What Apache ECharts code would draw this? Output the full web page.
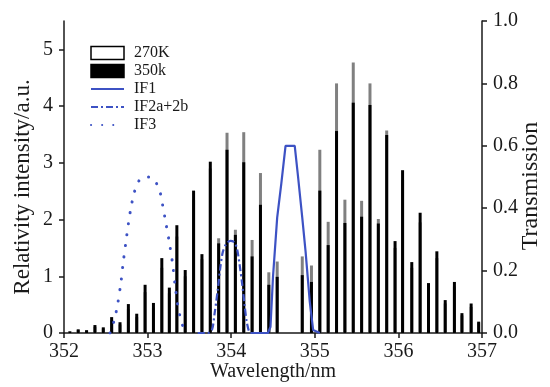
<!DOCTYPE html>
<html>
<head>
<meta charset="utf-8">
<script src="https://cdn.jsdelivr.net/npm/echarts@6/dist/echarts.min.js"></script>
<style>
  html, body { margin: 0; padding: 0; background: #ffffff; }
  #chart { width: 550px; height: 387px; }
</style>
</head>
<body>
<div id="chart"></div>
<script>
// Rotational line positions (nm)
const wavelengths = [352.07,352.17,352.27,352.37,352.47,352.57,352.67,352.77,352.87,352.97,353.07,
  353.17,353.26,353.35,353.45,353.55,353.65,353.75,353.85,353.95,
  354.05,354.15,354.25,354.35,354.45,354.55,354.85,354.96,
  355.06,355.16,355.26,355.36,355.46,355.56,355.66,355.76,355.86,355.96,
  356.05,356.16,356.26,356.36,356.46,356.56,356.67,356.76,356.87,356.96];

// Line intensities at 270 K
const intensity270K = [0.02,0.05,0.04,0.11,0.08,0.22,0.15,0.42,0.28,0.72,0.45,
  1.15,0.70,1.70,1.00,2.35,1.30,2.90,1.67,3.53,
  1.82,3.54,1.64,2.82,1.07,1.26,1.35,1.19,
  3.23,1.96,4.40,2.35,4.77,2.33,4.40,2.01,3.57,1.50,
  2.70,1.15,1.95,0.80,1.32,0.52,0.82,0.31,0.46,0.18];

// Line intensities at 350 k
const intensity350k = [0.03,0.065,0.05,0.14,0.10,0.28,0.19,0.51,0.34,0.85,0.53,
  1.32,0.80,1.90,1.11,2.51,1.39,3.02,1.58,3.23,
  1.73,3.01,1.35,2.26,0.85,0.99,1.02,0.90,
  2.51,1.55,3.56,1.94,4.06,2.05,4.02,1.93,3.49,1.62,
  2.87,1.25,2.12,0.88,1.44,0.58,0.90,0.35,0.52,0.20];

// Filter transmission curves: [wavelength, transmission]
const if1Curve = [[354.25,0],[354.44,0],[354.47,0.02],[354.50,0.18],[354.55,0.37],[354.60,0.48],
  [354.65,0.60],[354.76,0.60],[354.80,0.50],[354.85,0.37],[354.89,0.26],[354.94,0.10],
  [354.98,0.01],[355.06,0]];

const if2Curve = [[353.60,0],[353.72,0],[353.77,0.01],[353.80,0.06],[353.84,0.14],[353.87,0.21],
  [353.90,0.26],[353.94,0.285],[353.99,0.295],[354.04,0.29],[354.07,0.27],[354.10,0.22],
  [354.13,0.16],[354.16,0.09],[354.19,0.03],[354.23,0],[354.28,0]];

const if3Curve = [[352.55,0],[352.60,0.04],[352.64,0.09],[352.68,0.16],[352.71,0.23],[352.74,0.29],
  [352.77,0.35],[352.80,0.40],[352.84,0.45],[352.89,0.485],[352.95,0.50],[353.02,0.50],
  [353.08,0.49],[353.14,0.46],[353.18,0.41],[353.22,0.35],[353.26,0.29],[353.30,0.22],
  [353.33,0.15],[353.36,0.09],[353.40,0.04],[353.45,0]];

// Axis ticks
const xTicks = [352, 353, 354, 355, 356, 357];
const intensityTicks = [0, 1, 2, 3, 4, 5];

const FONT = '"Liberation Serif", "Times New Roman", serif';
const INK = '#1a1a1a';
const BLUE = '#3d52c4';

const pairs = (xs, ys) => xs.map((x, i) => [x, ys[i]]);

const chart = echarts.init(document.getElementById('chart'), null, { renderer: 'canvas' });

// legend entries for the curves show the stroke only (no marker)
const lineEntry = name => ({ name, itemStyle: { opacity: 0 } });

chart.setOption({
  backgroundColor: '#ffffff',
  animation: false,
  textStyle: { fontFamily: FONT, color: INK },
  grid: { left: 64, right: 68, top: 21, bottom: 54, containLabel: false, outerBoundsMode: 'none' },
  legend: {
    orient: 'vertical',
    left: 90,
    top: 45,
    padding: 0,
    itemWidth: 33,
    itemHeight: 13,
    itemGap: 2,
    textStyle: { fontFamily: FONT, fontSize: 16, color: INK, lineHeight: 16, padding: [0, 0, 0, 5] },
    data: [
      { name: '270K', icon: 'rect', itemStyle: { color: '#ffffff', borderColor: '#000000', borderWidth: 1.5 } },
      { name: '350k', icon: 'rect', itemStyle: { color: '#000000', borderColor: '#000000', borderWidth: 1.5 } },
      lineEntry('IF1'),
      lineEntry('IF2a+2b'),
      lineEntry('IF3')
    ]
  },
  xAxis: {
    type: 'value',
    min: 352,
    max: 357,
    interval: 1,
    name: 'Wavelength/nm',
    nameLocation: 'middle',
    nameMoveOverlap: false,
    nameGap: 29,
    nameTextStyle: { fontFamily: FONT, fontSize: 20, color: INK },
    axisLine: { show: true, onZero: false, lineStyle: { color: INK, width: 1.5 } },
    axisTick: { show: true, inside: false, length: 5, lineStyle: { color: INK, width: 1.5 }, customValues: xTicks },
    axisLabel: { fontFamily: FONT, fontSize: 20, color: INK, margin: 9, customValues: xTicks },
    splitLine: { show: false }
  },
  yAxis: [
    {
      type: 'value',
      min: 0,
      max: 5.5,
      name: 'Relativity intensity/a.u.',
      nameLocation: 'middle',
      nameMoveOverlap: false,
      nameGap: 30,
      nameTextStyle: { fontFamily: FONT, fontSize: 23, color: INK, padding: [0, 20, 0, 0] },
      axisLine: { show: true, lineStyle: { color: INK, width: 1.5 } },
      axisTick: { show: true, inside: false, length: 5, lineStyle: { color: INK, width: 1.5 }, customValues: intensityTicks },
      axisLabel: { fontFamily: FONT, fontSize: 20, color: INK, margin: 11, customValues: intensityTicks },
      splitLine: { show: false }
    },
    {
      type: 'value',
      position: 'right',
      min: 0,
      max: 1,
      interval: 0.2,
      name: 'Transmission',
      nameLocation: 'middle',
      nameMoveOverlap: false,
      nameGap: 37,
      nameTextStyle: { fontFamily: FONT, fontSize: 24, color: INK, padding: [0, 18, 0, 0] },
      axisLine: { show: true, lineStyle: { color: INK, width: 1.5 } },
      axisTick: { show: true, inside: false, length: 5, lineStyle: { color: INK, width: 1.5 } },
      axisLabel: { fontFamily: FONT, fontSize: 20, color: INK, margin: 11,
        formatter: v => v.toFixed(1) },
      splitLine: { show: false }
    }
  ],
  series: [
    {
      name: '270K',
      type: 'bar',
      yAxisIndex: 0,
      barWidth: 3,
      itemStyle: { color: '#808080', borderWidth: 0 },
      data: pairs(wavelengths, intensity270K)
    },
    {
      name: '350k',
      type: 'bar',
      yAxisIndex: 0,
      barWidth: 3,
      barGap: '-100%',
      itemStyle: { color: '#000000', borderWidth: 0 },
      data: pairs(wavelengths, intensity350k)
    },
    {
      name: 'IF1',
      type: 'line',
      yAxisIndex: 1,
      symbol: 'none',
      lineStyle: { color: BLUE, width: 2.2, type: 'solid' },
      itemStyle: { color: BLUE },
      data: if1Curve
    },
    {
      name: 'IF2a+2b',
      type: 'line',
      yAxisIndex: 1,
      symbol: 'none',
      smooth: 0.3,
      lineStyle: { color: BLUE, width: 2.2, type: [7, 3, 2, 3] },
      itemStyle: { color: BLUE },
      data: if2Curve
    },
    {
      name: 'IF3',
      type: 'line',
      yAxisIndex: 1,
      symbol: 'none',
      smooth: 0.3,
      lineStyle: { color: BLUE, width: 3, type: [0.1, 11], cap: 'round' },
      itemStyle: { color: BLUE },
      data: if3Curve
    }
  ]
});
</script>
</body>
</html>
